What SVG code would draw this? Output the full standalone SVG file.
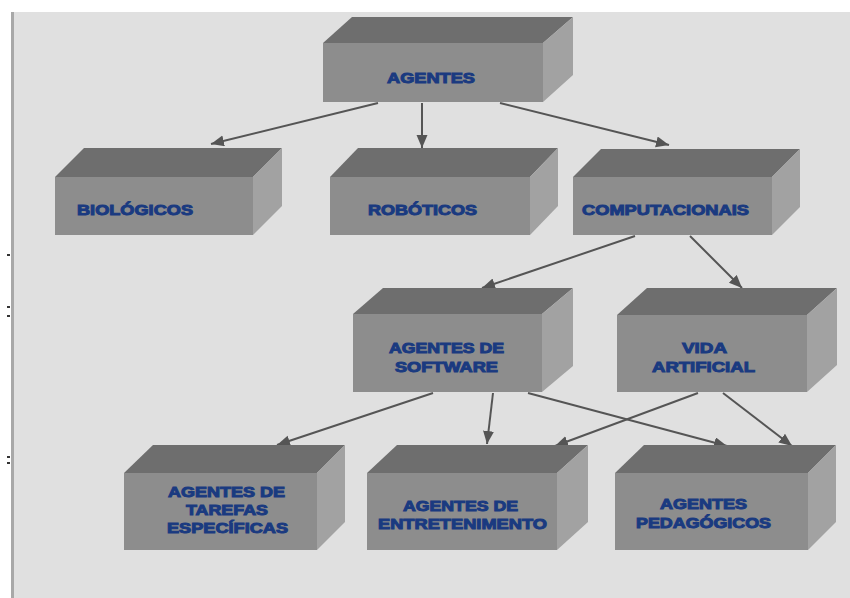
<svg xmlns="http://www.w3.org/2000/svg" width="850" height="598" viewBox="0 0 850 598">
<defs>
<style>
.top{fill:#6e6e6e}
.front{fill:#8d8d8d}
.side{fill:#a2a2a2}
.lbl{font-family:"Liberation Sans",Arial,sans-serif;font-weight:bold;font-size:15px;fill:#1a3a80;stroke:#1a3a80;stroke-width:1px}
.conn{stroke:#555;stroke-width:2;fill:none;marker-end:url(#arr)}
</style>
<marker id="arr" markerUnits="userSpaceOnUse" markerWidth="14" markerHeight="12" refX="13" refY="5.5" orient="auto">
<path d="M0,0 L13,5.5 L0,11 z" fill="#555"/>
</marker>
</defs>
<rect x="0" y="0" width="850" height="598" fill="#ffffff"/>
<rect x="12" y="12" width="838" height="586" fill="#e0e0e0"/>
<rect x="11" y="12" width="3" height="586" fill="#a8a8a8"/>
<rect x="7" y="254" width="3" height="2" fill="#333"/>
<rect x="7" y="306" width="3" height="2" fill="#333"/>
<rect x="7" y="315" width="3" height="2" fill="#333"/>
<rect x="7" y="456" width="3" height="2" fill="#333"/>
<rect x="7" y="462" width="3" height="2" fill="#333"/>

<g id="connectors">
<line class="conn" x1="378" y1="103" x2="211" y2="144"/>
<line class="conn" x1="422" y1="103" x2="422" y2="148"/>
<line class="conn" x1="500" y1="103" x2="669" y2="145"/>
<line class="conn" x1="635" y1="236" x2="482" y2="288"/>
<line class="conn" x1="690" y1="236" x2="742" y2="288"/>
<line class="conn" x1="433" y1="393" x2="277" y2="445"/>
<line class="conn" x1="493" y1="393" x2="487" y2="444"/>
<line class="conn" x1="528" y1="393" x2="727" y2="446"/>
<line class="conn" x1="698" y1="393" x2="555" y2="446"/>
<line class="conn" x1="723" y1="393" x2="792" y2="446"/>
</g>

<g id="agentes">
<polygon class="top" points="323,43 352,17 573,17 543,43"/>
<polygon class="side" points="543,43 573,17 573,75 543,102"/>
<rect class="front" x="323" y="43" width="220" height="59"/>
<text class="lbl" x="387" y="83" textLength="88" lengthAdjust="spacingAndGlyphs">AGENTES</text>
</g>

<g id="biologicos">
<polygon class="top" points="55,177 84,148 282,148 253,177"/>
<polygon class="side" points="253,177 282,148 282,206 253,235"/>
<rect class="front" x="55" y="177" width="198" height="58"/>
<text class="lbl" x="77" y="215" textLength="116" lengthAdjust="spacingAndGlyphs">BIOLÓGICOS</text>
</g>

<g id="roboticos">
<polygon class="top" points="330,177 358,148 558,148 530,177"/>
<polygon class="side" points="530,177 558,148 558,206 530,235"/>
<rect class="front" x="330" y="177" width="200" height="58"/>
<text class="lbl" x="368" y="215" textLength="109" lengthAdjust="spacingAndGlyphs">ROBÓTICOS</text>
</g>

<g id="computacionais">
<polygon class="top" points="573,177 601,149 800,149 772,177"/>
<polygon class="side" points="772,177 800,149 800,207 772,235"/>
<rect class="front" x="573" y="177" width="199" height="58"/>
<text class="lbl" x="582" y="215" textLength="167" lengthAdjust="spacingAndGlyphs">COMPUTACIONAIS</text>
</g>

<g id="software">
<polygon class="top" points="353,314 383,288 573,288 542,314"/>
<polygon class="side" points="542,314 573,288 573,366 542,392"/>
<rect class="front" x="353" y="314" width="189" height="78"/>
<text class="lbl" x="389" y="353" textLength="115" lengthAdjust="spacingAndGlyphs">AGENTES DE</text>
<text class="lbl" x="395" y="372" textLength="103" lengthAdjust="spacingAndGlyphs">SOFTWARE</text>
</g>

<g id="vida">
<polygon class="top" points="617,315 647,288 837,288 807,315"/>
<polygon class="side" points="807,315 837,288 837,365 807,392"/>
<rect class="front" x="617" y="315" width="190" height="77"/>
<text class="lbl" x="682" y="353" textLength="45" lengthAdjust="spacingAndGlyphs">VIDA</text>
<text class="lbl" x="652" y="372" textLength="103" lengthAdjust="spacingAndGlyphs">ARTIFICIAL</text>
</g>

<g id="tarefas">
<polygon class="top" points="124,473 153,445 345,445 317,473"/>
<polygon class="side" points="317,473 345,445 345,522 317,550"/>
<rect class="front" x="124" y="473" width="193" height="77"/>
<text class="lbl" x="168" y="497" textLength="117" lengthAdjust="spacingAndGlyphs">AGENTES DE</text>
<text class="lbl" x="186" y="515" textLength="82" lengthAdjust="spacingAndGlyphs">TAREFAS</text>
<text class="lbl" x="167" y="533" textLength="121" lengthAdjust="spacingAndGlyphs">ESPECÍFICAS</text>
</g>

<g id="entretenimento">
<polygon class="top" points="367,473 397,445 588,445 557,473"/>
<polygon class="side" points="557,473 588,445 588,522 557,550"/>
<rect class="front" x="367" y="473" width="190" height="77"/>
<text class="lbl" x="403" y="511" textLength="115" lengthAdjust="spacingAndGlyphs">AGENTES DE</text>
<text class="lbl" x="378" y="529" textLength="169" lengthAdjust="spacingAndGlyphs">ENTRETENIMENTO</text>
</g>

<g id="pedagogicos">
<polygon class="top" points="615,473 644,445 836,445 808,473"/>
<polygon class="side" points="808,473 836,445 836,522 808,550"/>
<rect class="front" x="615" y="473" width="193" height="77"/>
<text class="lbl" x="660" y="509" textLength="87" lengthAdjust="spacingAndGlyphs">AGENTES</text>
<text class="lbl" x="636" y="528" textLength="135" lengthAdjust="spacingAndGlyphs">PEDAGÓGICOS</text>
</g>
</svg>
